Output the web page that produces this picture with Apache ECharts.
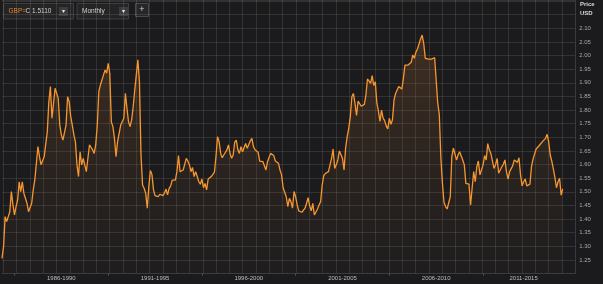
<!DOCTYPE html>
<html><head><meta charset="utf-8">
<script src="https://cdn.jsdelivr.net/npm/echarts@6/dist/echarts.min.js"></script>
<style>html,body{margin:0;padding:0;background:#1b1b1d;}#c{width:603px;height:284px;}</style>
</head><body><div id="c"></div>
<script>
// GBP/USD monthly close, May 1985 .. Apr 2015
const firstYear = 1985, firstMonth = 5;
const gbpusd = [
1.256,1.299,1.409,1.391,1.409,1.427,1.501,1.452,1.415,1.446,
1.470,1.537,1.501,1.537,1.495,1.489,1.458,1.427,1.433,1.458,
1.507,1.543,1.605,1.666,1.629,1.599,1.593,1.629,1.629,1.721,
1.831,1.886,1.770,1.770,1.880,1.880,1.843,1.745,1.709,1.690,
1.696,1.745,1.849,1.831,1.776,1.745,1.709,1.684,1.599,1.556,
1.647,1.599,1.623,1.599,1.574,1.623,1.672,1.678,1.654,1.641,
1.672,1.745,1.868,1.892,1.886,1.929,1.947,1.935,1.971,1.935,
1.757,1.739,1.696,1.629,1.684,1.690,1.745,1.751,1.770,1.861,
1.806,1.757,1.739,1.764,1.812,1.874,1.929,1.984,1.904,1.635,
1.525,1.513,1.495,1.440,1.519,1.578,1.564,1.507,1.486,1.489,
1.482,1.491,1.486,1.486,1.495,1.510,1.489,1.513,1.522,1.543,
1.550,1.543,1.574,1.633,1.574,1.568,1.580,1.586,1.623,1.613,
1.599,1.574,1.589,1.556,1.574,1.556,1.537,1.528,1.547,1.515,
1.531,1.507,1.547,1.554,1.556,1.562,1.572,1.629,1.702,1.684,
1.641,1.625,1.635,1.635,1.654,1.672,1.641,1.623,1.635,1.682,
1.690,1.654,1.641,1.666,1.647,1.654,1.677,1.660,1.654,1.687,
1.696,1.666,1.654,1.654,1.645,1.613,1.617,1.611,1.608,1.580,
1.611,1.605,1.641,1.647,1.633,1.613,1.617,1.605,1.580,1.562,
1.515,1.510,1.482,1.446,1.476,1.464,1.440,1.501,1.482,1.452,
1.430,1.437,1.425,1.421,1.440,1.458,1.479,1.448,1.430,1.458,
1.415,1.418,1.437,1.452,1.464,1.525,1.559,1.567,1.562,1.574,
1.574,1.623,1.657,1.586,1.599,1.617,1.650,1.650,1.623,1.580,
1.660,1.702,1.733,1.776,1.849,1.861,1.825,1.780,1.833,1.826,
1.814,1.809,1.821,1.855,1.914,1.910,1.898,1.926,1.890,1.904,
1.825,1.797,1.758,1.800,1.770,1.761,1.742,1.731,1.770,1.748,
1.764,1.837,1.861,1.861,1.886,1.890,1.877,1.916,1.965,1.963,
1.965,1.968,1.975,2.002,1.990,2.012,2.024,2.029,2.061,2.075,
2.045,1.990,1.987,1.987,1.986,1.987,1.990,1.992,1.990,1.825,
1.782,1.623,1.531,1.462,1.446,1.437,1.433,1.482,1.629,1.660,
1.666,1.617,1.635,1.647,1.645,1.617,1.599,1.531,1.525,1.528,
1.452,1.513,1.574,1.537,1.592,1.613,1.562,1.564,1.599,1.633,
1.617,1.677,1.654,1.641,1.635,1.586,1.599,1.623,1.568,1.568,
1.592,1.601,1.617,1.574,1.547,1.574,1.580,1.596,1.617,1.611,
1.608,1.625,1.562,1.522,1.537,1.547,1.522,1.522,1.528,1.592,
1.620,1.639,1.657,1.654,1.670,1.676,1.684,1.687,1.696,1.711,
1.684,1.635,1.613,1.584,1.553,1.515,1.537,1.550,1.488,1.511
];
const lastPrice = 1.5110;
const periodLabels = ['1986-1990','1991-1995','1996-2000','2001-2005','2006-2010','2011-2015'];
const periodLabelMonths = ['1988-07','1993-07','1998-07','2003-07','2008-07','2013-03'];
const periodTickMonths = ['1986-01','1991-01','1996-01','2001-01','2006-01','2011-01'];
const trailingEmptyMonths = 8;
const yMin = 1.20, yStep = 0.05, yLabelLow = 1.25, yLabelHigh = 2.10;

const months = [];
for (let k = 0; k < gbpusd.length + trailingEmptyMonths; k++) {
  const m0 = firstMonth - 1 + k;
  const y = firstYear + Math.floor(m0 / 12), m = (m0 % 12) + 1;
  months.push(y + '-' + (m < 10 ? '0' + m : m));
}
const labelMap = {};
periodLabelMonths.forEach((m, j) => labelMap[m] = periodLabels[j]);

const chart = echarts.init(document.getElementById('c'), null, {renderer: 'canvas'});
const gridCol = 'rgba(255,238,215,0.11)';
const font = '"Liberation Sans", Arial, sans-serif';
const PLOT_TOP = 0, PLOT_BOTTOM = 10.4, PLOT_LEFT = 2, PLOT_RIGHT = 27.8;

chart.setOption({
  backgroundColor: '#1b1b1d',
  animation: false,
  grid: [
    {left: PLOT_LEFT, right: PLOT_RIGHT, top: PLOT_TOP, bottom: PLOT_BOTTOM},
    {left: 3.3, right: PLOT_RIGHT, top: PLOT_TOP, bottom: PLOT_BOTTOM}
  ],
  xAxis: [
    {
      type: 'category', gridIndex: 0, data: months, boundaryGap: false,
      axisLine: {show: true, lineStyle: {color: '#3a3a3c', width: 1}},
      axisTick: {show: true, length: 2, inside: false, lineStyle: {color: '#55555a'},
        interval: (i, v) => periodTickMonths.indexOf(v) >= 0},
      axisLabel: {show: true, margin: 2, fontSize: 6, fontFamily: font, color: '#bdbdbd',
        interval: (i, v) => labelMap[v] !== undefined,
        formatter: v => labelMap[v] || ''},
      splitLine: {show: false}
    },
    {
      type: 'value', gridIndex: 1, min: 0, max: 43, interval: 1,
      axisLine: {show: false}, axisTick: {show: false}, axisLabel: {show: false},
      splitLine: {show: true, lineStyle: {color: gridCol, width: 1}}
    }
  ],
  yAxis: [
    {
      type: 'value', gridIndex: 0, position: 'right', min: yMin, max: 2.2037, interval: yStep,
      axisLine: {show: true, lineStyle: {color: '#3a3a3c'}},
      axisTick: {show: false},
      axisLabel: {show: true, margin: 4, fontSize: 6, fontFamily: font, color: '#a9a9a9',
        formatter: v => (v >= yLabelLow - 0.001 && v <= yLabelHigh + 0.001) ? v.toFixed(2) : ''},
      splitLine: {show: true, lineStyle: {color: gridCol, width: 1}}
    },
    {
      type: 'value', gridIndex: 1, min: 0, max: 1, show: false
    }
  ],
  series: [{
    type: 'line', xAxisIndex: 0, yAxisIndex: 0,
    data: gbpusd, showSymbol: false, symbol: 'none',
    lineStyle: {color: '#f7962e', width: 1.3},
    areaStyle: {
      origin: 'start',
      color: new echarts.graphic.LinearGradient(0, 0, 0, 1, [
        {offset: 0, color: 'rgba(200,120,50,0.30)'},
        {offset: 1, color: 'rgba(120,80,50,0.06)'}
      ])
    },
    markLine: {
      silent: true, symbol: 'none',
      lineStyle: {opacity: 0},
      data: [{yAxis: lastPrice}],
      label: {position: 'end', distance: 0, formatter: () => lastPrice.toFixed(4),
        backgroundColor: '#f7962e', color: '#2a1a08', fontSize: 6, fontFamily: font,
        padding: [1.5, 4, 1.5, 5]}
    }
  }],
  graphic: [
    {type: 'text', left: 580, top: 1, style: {text: 'Price', fill: '#d8d8d8', font: 'bold 6px ' + font}},
    {type: 'text', left: 580, top: 10, style: {text: 'USD', fill: '#d8d8d8', font: 'bold 6px ' + font}},
    {type: 'rect', shape: {x: 3.5, y: 3.5, width: 70, height: 15.5}, style: {fill: '#242426', stroke: '#3d3d40', lineWidth: 1}},
    {type: 'text', x: 8.5, y: 11.3, style: {text: 'GBP=', fill: '#e0862a', font: '6.5px ' + font, verticalAlign: 'middle'}},
    {type: 'text', x: 25.5, y: 11.3, style: {text: 'C 1.5110', fill: '#cfcfcf', font: '6.5px ' + font, verticalAlign: 'middle'}},
    {type: 'rect', shape: {x: 59, y: 7, width: 9, height: 9}, style: {fill: '#3c3c3f'}},
    {type: 'text', x: 63.5, y: 11.5, style: {text: '▾', fill: '#e8e8e8', font: '6px ' + font, align: 'center', verticalAlign: 'middle'}},
    {type: 'rect', shape: {x: 77, y: 3.5, width: 51.5, height: 15.5}, style: {fill: '#242426', stroke: '#3d3d40', lineWidth: 1}},
    {type: 'text', x: 82, y: 11.3, style: {text: 'Monthly', fill: '#cfcfcf', font: '6.5px ' + font, verticalAlign: 'middle'}},
    {type: 'rect', shape: {x: 119, y: 7, width: 9, height: 9}, style: {fill: '#3c3c3f'}},
    {type: 'text', x: 123.5, y: 11.5, style: {text: '▾', fill: '#e8e8e8', font: '6px ' + font, align: 'center', verticalAlign: 'middle'}},
    {type: 'rect', shape: {x: 135.5, y: 3.5, width: 13, height: 13}, style: {fill: '#262628', stroke: '#4a4a4e', lineWidth: 1}},
    {type: 'text', x: 142, y: 10, style: {text: '+', fill: '#d0d0d0', font: '9px ' + font, align: 'center', verticalAlign: 'middle'}}
  ]
});
</script></body></html>
